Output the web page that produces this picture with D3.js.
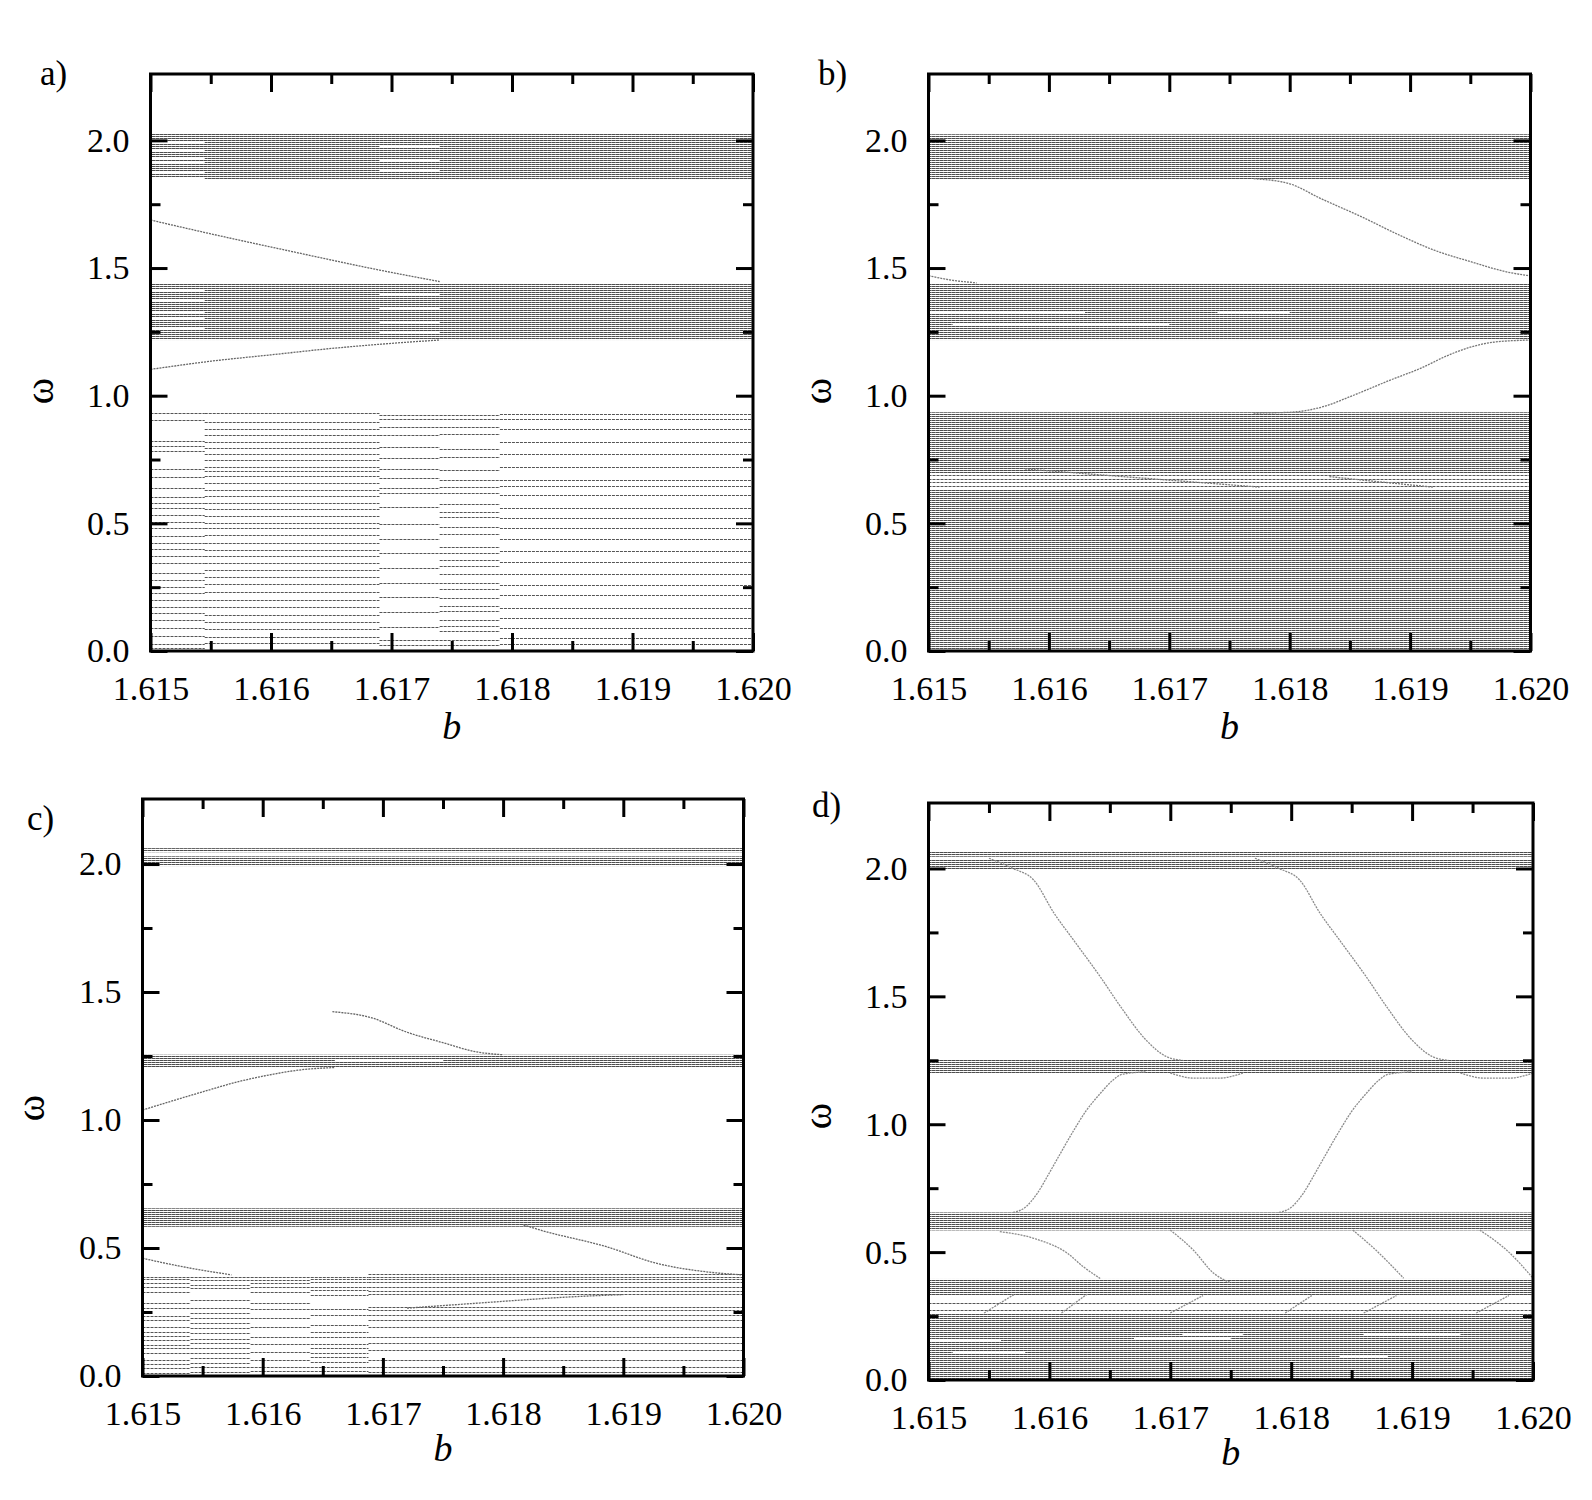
<!DOCTYPE html>
<html>
<head>
<meta charset="utf-8">
<script src="https://cdn.jsdelivr.net/npm/d3@7/dist/d3.min.js"></script>
<style>
  body { margin: 0; background: #fff; }
  text { font-family: "Liberation Serif", "Times New Roman", serif; }
</style>
</head>
<body>
<svg id="fig" width="1592" height="1500"></svg>
<script>
// ---------- tick values ----------
var bTicks = [1.615, 1.616, 1.617, 1.618, 1.619, 1.620];
var bMinor = [1.6155, 1.6165, 1.6175, 1.6185, 1.6195];
var wTicks = [0, 0.5, 1.0, 1.5, 2.0];
var wMinor = [0.25, 0.75, 1.25, 1.75];

// ---------- panel a ----------
// dense bands: [b0, b1, lo, hi]
var aDense = [
  [1.615, 1.620, 1.845, 2.026],
  [1.615, 1.620, 1.218, 1.441]
];
// segments of b where the lower levels stay put
var aSegs = [[1.615, 1.61545], [1.61545, 1.6169], [1.6169, 1.6174], [1.6174, 1.6179], [1.6179, 1.620]];
var aLevels = [
  [0.931, 0.905, 0.823, 0.804, 0.785, 0.712, 0.683, 0.637, 0.604, 0.581, 0.559, 0.532, 0.506, 0.480, 0.450,
   0.424, 0.398, 0.372, 0.345, 0.306, 0.280, 0.249, 0.226, 0.200, 0.174, 0.148, 0.121, 0.089, 0.059, 0.026, 0.011],
  [0.931, 0.898, 0.868, 0.846, 0.820, 0.794, 0.772, 0.748, 0.722, 0.706, 0.685, 0.657, 0.631, 0.607, 0.581,
   0.555, 0.529, 0.503, 0.481, 0.454, 0.424, 0.396, 0.372, 0.346, 0.317, 0.291, 0.262, 0.232, 0.200, 0.174,
   0.141, 0.115, 0.085, 0.056, 0.030],
  [0.924, 0.907, 0.876, 0.846, 0.800, 0.755, 0.712, 0.676, 0.637, 0.618, 0.565, 0.496, 0.438, 0.383, 0.324,
   0.268, 0.213, 0.154, 0.095, 0.043, 0.024],
  [0.924, 0.907, 0.878, 0.850, 0.790, 0.761, 0.709, 0.670, 0.644, 0.618, 0.576, 0.546, 0.524, 0.487, 0.459,
   0.409, 0.383, 0.357, 0.331, 0.301, 0.266, 0.243, 0.207, 0.175, 0.155, 0.122, 0.096, 0.077, 0.043, 0.024],
  [0.930, 0.910, 0.870, 0.820, 0.770, 0.720, 0.670, 0.648, 0.610, 0.560, 0.520, 0.480, 0.440, 0.390, 0.350,
   0.300, 0.260, 0.220, 0.170, 0.130, 0.090, 0.050, 0.028]
];
// white gaps inside the dense bands: [b0, b1, w]
var aGaps = [
  [1.615, 1.61545, 1.990], [1.615, 1.61545, 1.958], [1.615, 1.61545, 1.930], [1.615, 1.61545, 1.910],
  [1.615, 1.61545, 1.876], [1.615, 1.61545, 1.853],
  [1.6169, 1.6174, 1.975], [1.6169, 1.6174, 1.925], [1.6169, 1.6174, 1.880],
  [1.615, 1.61545, 1.414], [1.615, 1.61545, 1.375], [1.615, 1.61545, 1.328], [1.615, 1.61545, 1.304],
  [1.615, 1.61545, 1.265],
  [1.6169, 1.6174, 1.400], [1.6169, 1.6174, 1.340], [1.6169, 1.6174, 1.290], [1.6169, 1.6174, 1.250]
];
var aCurves = [
  [[1.615, 1.688], [1.6155, 1.634], [1.6162, 1.562], [1.6169, 1.492], [1.6174, 1.447]],
  [[1.615, 1.103], [1.6155, 1.135], [1.6160, 1.160], [1.6165, 1.185], [1.6170, 1.205], [1.6174, 1.218]]
];

// ---------- panel b ----------
var bDense = [
  [1.615, 1.620, 1.848, 2.024],
  [1.615, 1.620, 1.218, 1.441],
  [1.615, 1.620, 0.697, 0.935],
  [1.615, 1.620, 0.000, 0.632]
];
var bSegs = [[1.615, 1.620]];
var bLevels = [[0.645, 0.660, 0.675, 0.690]];
var bGaps = [
  [1.615, 1.6163, 1.324], [1.6174, 1.6180, 1.324],
  [1.6152, 1.6170, 1.277]
];
var bCurves = [
  [[1.615, 1.470], [1.6152, 1.452], [1.6154, 1.442]],
  [[1.6177, 1.850], [1.6180, 1.830], [1.61825, 1.774], [1.6186, 1.700], [1.61892, 1.627], [1.6192, 1.570],
   [1.61951, 1.524], [1.6198, 1.485], [1.6200, 1.469]],
  [[1.6177, 0.932], [1.6180, 0.935], [1.6183, 0.960], [1.6185, 0.996], [1.61883, 1.060], [1.6191, 1.110],
   [1.6193, 1.155], [1.6195, 1.190], [1.6197, 1.210], [1.6200, 1.218]],
  [[1.6158, 0.713], [1.6167, 0.680], [1.61775, 0.642]],
  [[1.61833, 0.683], [1.6188, 0.660], [1.61919, 0.642]]
];

// ---------- panel c ----------
var cDense = [
  [1.615, 1.620, 1.992, 2.030],
  [1.615, 1.620, 2.046, 2.062],
  [1.615, 1.620, 1.205, 1.255],
  [1.615, 1.620, 0.583, 0.655]
];
var cSegs = [[1.615, 1.6154], [1.6154, 1.6159], [1.6159, 1.6164], [1.6164, 1.61688], [1.61688, 1.620]];
var cLevels = [
  [0.388, 0.378, 0.362, 0.346, 0.329, 0.284, 0.264, 0.234, 0.219, 0.193, 0.173, 0.156, 0.141, 0.121, 0.108,
   0.089, 0.063, 0.047, 0.030, 0.013],
  [0.388, 0.375, 0.355, 0.342, 0.297, 0.264, 0.247, 0.225, 0.206, 0.186, 0.167, 0.143, 0.128, 0.108, 0.089,
   0.069, 0.052, 0.036, 0.017],
  [0.388, 0.375, 0.362, 0.346, 0.329, 0.284, 0.260, 0.225, 0.193, 0.154, 0.125, 0.095, 0.063, 0.034, 0.021],
  [0.388, 0.378, 0.368, 0.349, 0.336, 0.316, 0.260, 0.238, 0.199, 0.173, 0.154, 0.125, 0.108, 0.091, 0.076,
   0.056, 0.036, 0.021],
  [0.397, 0.388, 0.378, 0.368, 0.349, 0.332, 0.319, 0.271, 0.258, 0.238, 0.219, 0.193, 0.154, 0.128, 0.102,
   0.063, 0.036, 0.017]
];
var cGaps = [[1.6166, 1.6175, 1.235], [1.615, 1.6163, 2.040]];
var cCurves = [
  [[1.61658, 1.423], [1.6169, 1.400], [1.6172, 1.343], [1.6175, 1.302], [1.61778, 1.266], [1.6180, 1.255]],
  [[1.615, 1.039], [1.6155, 1.110], [1.6158, 1.150], [1.6161, 1.180], [1.6163, 1.195], [1.6166, 1.205]],
  [[1.615, 0.460], [1.6153, 0.430], [1.61574, 0.395]],
  [[1.61817, 0.590], [1.61831, 0.570], [1.61886, 0.505], [1.61928, 0.440], [1.61969, 0.407], [1.6200, 0.395]],
  [[1.6172, 0.265], [1.6178, 0.285], [1.6186, 0.310], [1.6190, 0.318]]
];

// ---------- panel d ----------
var dDense = [
  [1.615, 1.620, 2.046, 2.065],
  [1.615, 1.620, 1.995, 2.035],
  [1.615, 1.620, 1.200, 1.255],
  [1.615, 1.620, 0.585, 0.655],
  [1.615, 1.620, 0.330, 0.395],
  [1.615, 1.620, 0.000, 0.262]
];
var dSegs = [[1.615, 1.620]];
var dLevels = [[0.275, 0.300]];
var dGaps = [
  [1.6150, 1.6156, 0.155], [1.6167, 1.6175, 0.160], [1.6171, 1.6176, 0.180],
  [1.6186, 1.6194, 0.180], [1.6184, 1.6188, 0.095], [1.6152, 1.6158, 0.105]
];
var dCurves = [
  [[1.6155, 2.040], [1.6157, 2.000], [1.61587, 1.955], [1.61604, 1.824], [1.6162, 1.720], [1.61642, 1.577],
   [1.61659, 1.459], [1.6168, 1.329], [1.61697, 1.264], [1.6171, 1.250]],
  [[1.6177, 2.040], [1.6179, 2.000], [1.61807, 1.955], [1.61824, 1.824], [1.6184, 1.720], [1.61862, 1.577],
   [1.61879, 1.459], [1.619, 1.329], [1.61917, 1.264], [1.6193, 1.250]],
  [[1.6170, 1.200], [1.6172, 1.180], [1.6174, 1.180], [1.6176, 1.200]],
  [[1.6194, 1.200], [1.6196, 1.180], [1.6198, 1.180], [1.6200, 1.200]],
  [[1.6157, 0.655], [1.6158, 0.675], [1.6159, 0.730], [1.6160, 0.810], [1.61609, 0.885], [1.6162, 0.975],
   [1.6163, 1.050], [1.61642, 1.120], [1.61652, 1.170], [1.6166, 1.195], [1.6168, 1.205]],
  [[1.6179, 0.655], [1.6180, 0.675], [1.6181, 0.730], [1.6182, 0.810], [1.61829, 0.885], [1.6184, 0.975],
   [1.6185, 1.050], [1.61862, 1.120], [1.61872, 1.170], [1.6188, 1.195], [1.6190, 1.205]],
  [[1.61559, 0.580], [1.61587, 0.554], [1.61615, 0.495], [1.61628, 0.443], [1.61642, 0.397]],
  [[1.6170, 0.586], [1.61719, 0.508], [1.61736, 0.417], [1.6175, 0.380]],
  [[1.61851, 0.586], [1.6187, 0.508], [1.61893, 0.398]],
  [[1.61956, 0.586], [1.6198, 0.500], [1.6200, 0.398]],
  [[1.61546, 0.262], [1.61571, 0.335]],
  [[1.6161, 0.262], [1.61631, 0.335]],
  [[1.6170, 0.262], [1.61727, 0.330]],
  [[1.61795, 0.262], [1.61817, 0.330]],
  [[1.6186, 0.262], [1.61887, 0.330]],
  [[1.61953, 0.262], [1.6198, 0.330]]
];

// ---------- layout ----------
var panels = [
  {tag: 'a)', dense: aDense, segs: aSegs, levels: aLevels, gaps: aGaps, curves: aCurves, edge: '#666',
   x0: 150.5, x1: 753, yTop: 74, y0: 651, top: 2.26, tagX: 40, tagY: 85, omY: 391, labY: 739, omX: 39},
  {tag: 'b)', dense: bDense, segs: bSegs, levels: bLevels, gaps: bGaps, curves: bCurves, edge: '#777',
   x0: 928.5, x1: 1530.5, yTop: 74, y0: 651, top: 2.26, tagX: 818, tagY: 85, omY: 391, labY: 739, omX: 817},
  {tag: 'c)', dense: cDense, segs: cSegs, levels: cLevels, gaps: cGaps, curves: cCurves, edge: '#666',
   x0: 142.5, x1: 743.5, yTop: 799, y0: 1376, top: 2.254, tagX: 27, tagY: 830, omY: 1108, labY: 1461, omX: 30},
  {tag: 'd)', dense: dDense, segs: dSegs, levels: dLevels, gaps: dGaps, curves: dCurves, edge: '#8c8c8c',
   x0: 928.5, x1: 1533, yTop: 803, y0: 1380, top: 2.256, tagX: 812, tagY: 817, omY: 1116, labY: 1465, omX: 817}
];

var svg = d3.select('#fig');
svg.append('rect').attr('width', 1592).attr('height', 1500).attr('fill', '#fff');

var defs = svg.append('defs');
var hatch = defs.append('pattern')
  .attr('id', 'hatch')
  .attr('patternUnits', 'userSpaceOnUse')
  .attr('width', 4).attr('height', 2);
hatch.append('rect').attr('width', 4).attr('height', 2).attr('fill', '#fff');
hatch.append('rect').attr('width', 3).attr('height', 1).attr('fill', '#4d4d4d');
hatch.append('rect').attr('x', 3).attr('width', 1).attr('height', 1).attr('fill', '#8a8a8a');

var tickFont = 34, labelFont = 38;

function drawPanel(p, i) {
  var x = d3.scaleLinear().domain([1.615, 1.620]).range([p.x0, p.x1]);
  var y = d3.scaleLinear().domain([0, p.top]).range([p.y0, p.yTop]);
  var g = svg.append('g');

  defs.append('clipPath').attr('id', 'clip' + i)
    .append('rect').attr('x', p.x0).attr('y', p.yTop)
    .attr('width', p.x1 - p.x0).attr('height', p.y0 - p.yTop);
  var plot = g.append('g').attr('clip-path', 'url(#clip' + i + ')');

  plot.selectAll('rect.band').data(p.dense).join('rect')
    .attr('class', 'band')
    .attr('x', function(d) { return x(d[0]); })
    .attr('width', function(d) { return x(d[1]) - x(d[0]); })
    .attr('y', function(d) { return y(d[3]); })
    .attr('height', function(d) { return y(d[2]) - y(d[3]); })
    .attr('fill', 'url(#hatch)');

  var flat = [];
  p.segs.forEach(function(s, k) {
    p.levels[k].forEach(function(w) { flat.push([s[0], s[1], w]); });
  });
  plot.selectAll('line.lev').data(flat).join('line')
    .attr('class', 'lev')
    .attr('x1', function(d) { return x(d[0]); })
    .attr('x2', function(d) { return x(d[1]); })
    .attr('y1', function(d) { return Math.round(y(d[2])) + 0.5; })
    .attr('y2', function(d) { return Math.round(y(d[2])) + 0.5; })
    .attr('stroke', '#555').attr('stroke-width', 1)
    .attr('stroke-dasharray', '3,1');

  plot.selectAll('line.gap').data(p.gaps).join('line')
    .attr('class', 'gap')
    .attr('x1', function(d) { return x(d[0]); })
    .attr('x2', function(d) { return x(d[1]); })
    .attr('y1', function(d) { return Math.round(y(d[2])); })
    .attr('y2', function(d) { return Math.round(y(d[2])); })
    .attr('stroke', '#fff').attr('stroke-width', 2);

  var line = d3.line()
    .x(function(d) { return x(d[0]); })
    .y(function(d) { return y(d[1]); })
    .curve(d3.curveMonotoneX);
  plot.selectAll('path.edge').data(p.curves).join('path')
    .attr('class', 'edge')
    .attr('d', line)
    .attr('fill', 'none')
    .attr('stroke', p.edge).attr('stroke-width', 1.3)
    .attr('stroke-dasharray', '2,1');

  // axes, ticks pointing inward on all four sides
  function style(ax) {
    ax.select('.domain').remove();
    ax.selectAll('line').attr('stroke', '#000').attr('stroke-width', 3);
    ax.selectAll('text').attr('font-family', '"Liberation Serif", serif')
      .attr('font-size', tickFont).attr('fill', '#000');
  }
  style(g.append('g').attr('transform', 'translate(0,' + p.y0 + ')')
    .call(d3.axisBottom(x).tickValues(bTicks).tickSize(-18).tickPadding(25).tickFormat(d3.format('.3f'))));
  style(g.append('g').attr('transform', 'translate(0,' + p.y0 + ')')
    .call(d3.axisBottom(x).tickValues(bMinor).tickSize(-10).tickFormat('')));
  style(g.append('g').attr('transform', 'translate(0,' + p.yTop + ')')
    .call(d3.axisTop(x).tickValues(bTicks).tickSize(-18).tickFormat('')));
  style(g.append('g').attr('transform', 'translate(0,' + p.yTop + ')')
    .call(d3.axisTop(x).tickValues(bMinor).tickSize(-10).tickFormat('')));
  style(g.append('g').attr('transform', 'translate(' + p.x0 + ',0)')
    .call(d3.axisLeft(y).tickValues(wTicks).tickSize(-17).tickPadding(21).tickFormat(d3.format('.1f'))));
  style(g.append('g').attr('transform', 'translate(' + p.x0 + ',0)')
    .call(d3.axisLeft(y).tickValues(wMinor).tickSize(-10).tickFormat('')));
  style(g.append('g').attr('transform', 'translate(' + p.x1 + ',0)')
    .call(d3.axisRight(y).tickValues(wTicks).tickSize(-17).tickFormat('')));
  style(g.append('g').attr('transform', 'translate(' + p.x1 + ',0)')
    .call(d3.axisRight(y).tickValues(wMinor).tickSize(-10).tickFormat('')));

  g.append('rect')
    .attr('x', p.x0).attr('y', p.yTop)
    .attr('width', p.x1 - p.x0).attr('height', p.y0 - p.yTop)
    .attr('fill', 'none').attr('stroke', '#000').attr('stroke-width', 3);

  g.append('text').attr('x', p.tagX).attr('y', p.tagY)
    .attr('font-size', 35).text(p.tag);
  g.append('text')
    .attr('transform', 'translate(' + p.omX + ',' + p.omY + ') rotate(-90)')
    .attr('text-anchor', 'middle').attr('dominant-baseline', 'central')
    .attr('font-size', labelFont + 2).text('ω');
  g.append('text').attr('x', (p.x0 + p.x1) / 2).attr('y', p.labY)
    .attr('text-anchor', 'middle').attr('font-style', 'italic')
    .attr('font-size', labelFont).text('b');
}

panels.forEach(drawPanel);
</script>
</body>
</html>
